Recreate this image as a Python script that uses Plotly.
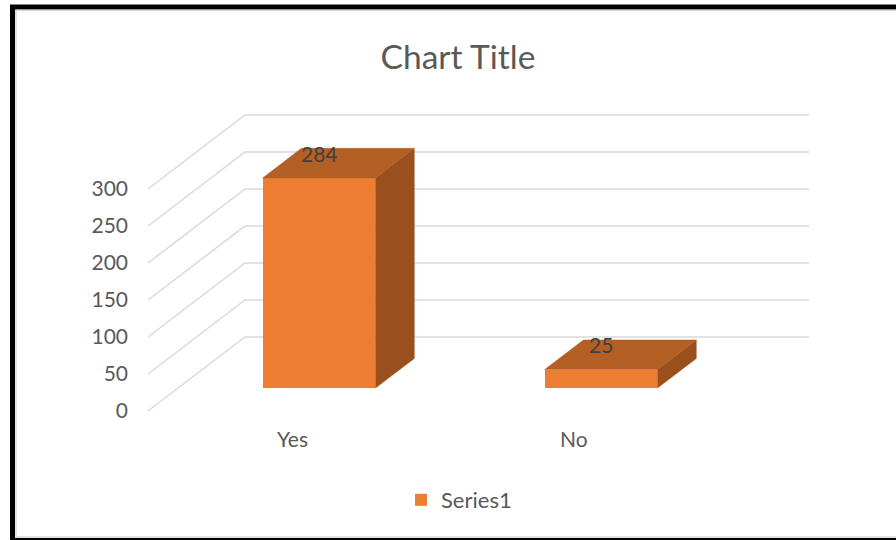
import plotly.graph_objects as go

# ---- data ----
categories = ["Yes", "No"]
values = [284, 25]
series_name = "Series1"
y_ticks = [0, 50, 100, 150, 200, 250, 300]
title_text = "Chart Title"

# ---- pseudo-3D geometry (in axis units) ----
W, H = 896, 540
DEPTH_X = 0.344      # full floor depth, category units
DEPTH_Y = 100.0      # full floor depth, value units
BAR_FRONT = 0.31     # bar front plane (fraction of depth)
BAR_BACK = 0.71
BAR_W = 0.40
FLOOR_L, FLOOR_R = -0.5, len(categories) - 0.5

FRONT = "#ED7D31"
TOP = "#B45F23"
SIDE = "#9A501C"
GRID = "#D9D9D9"
TXT = "#595959"
FONT = "Lato, 'Open Sans', sans-serif"

fig = go.Figure()
shapes = []

# gridlines: side diagonal + back wall (drawn below the bars)
for t in y_ticks:
    xs = [FLOOR_L, FLOOR_L + DEPTH_X, FLOOR_R + DEPTH_X]
    ys = [t, t + DEPTH_Y, t + DEPTH_Y]
    path = "M" + " L".join(f"{a},{b}" for a, b in zip(xs, ys))
    shapes.append(dict(type="path", xref="x", yref="y", path=path,
                       line=dict(color=GRID, width=1.5), layer="below"))

fdx = BAR_FRONT * DEPTH_X
fdy = BAR_FRONT * DEPTH_Y
ddx = (BAR_BACK - BAR_FRONT) * DEPTH_X
ddy = (BAR_BACK - BAR_FRONT) * DEPTH_Y

for i, (c, v) in enumerate(zip(categories, values)):
    xl = i + fdx - BAR_W / 2
    xr = i + fdx + BAR_W / 2
    base = fdy
    top = fdy + v
    # side face
    fig.add_trace(go.Scatter(
        x=[xr, xr, xr + ddx, xr + ddx, xr],
        y=[base, top, top + ddy, base + ddy, base],
        mode="lines", fill="toself", fillcolor=SIDE,
        line=dict(color=SIDE, width=0.5), hoverinfo="skip", showlegend=False))
    # top face
    fig.add_trace(go.Scatter(
        x=[xl, xr, xr + ddx, xl + ddx, xl],
        y=[top, top, top + ddy, top + ddy, top],
        mode="lines", fill="toself", fillcolor=TOP,
        line=dict(color=TOP, width=0.5), hoverinfo="skip", showlegend=False))

# front faces (the actual bars)
fig.add_trace(go.Bar(
    x=[i + fdx for i in range(len(categories))],
    y=values, base=[fdy] * len(values), width=BAR_W,
    marker=dict(color=FRONT, line=dict(width=0)),
    name=series_name, showlegend=True))

annotations = []
# data labels
for i, v in enumerate(values):
    annotations.append(dict(
        x=i + fdx, y=fdy + v + ddy, xref="x", yref="y",
        text=str(v), showarrow=False, yanchor="middle", yshift=-5,
        font=dict(family=FONT, size=21, color="#404040")))
# category labels
for i, c in enumerate(categories):
    annotations.append(dict(
        x=i, y=0, xref="x", yref="y", text=c, showarrow=False,
        yanchor="middle", yshift=-27, xshift=3,
        font=dict(family=FONT, size=21, color=TXT)))

shapes += [
    # outer black frame
    dict(type="rect", xref="paper", yref="paper",
         x0=12.5 / W, x1=1.05, y0=1 - 540.5 / H, y1=1 - 7 / H,
         line=dict(color="black", width=5), layer="above"),
    # inner grey frame
    dict(type="rect", xref="paper", yref="paper",
         x0=16 / W, x1=1.05, y0=1 - 537 / H, y1=1 - 10.5 / H,
         line=dict(color=GRID, width=1.5), layer="above"),
]

# axis ranges chosen so that value 0 / category 0 at depth 0 land at
# pixel (289, 411), 282 px per category and 0.74 px per unit
cx0, cy0, sx, sy = 289, 411, 282.0, 0.74
x0 = -cx0 / sx
x1 = (W - cx0) / sx
y0 = (cy0 - H) / sy
y1 = cy0 / sy

fig.update_layout(
    width=W, height=H,
    margin=dict(l=0, r=0, t=0, b=0),
    paper_bgcolor="white", plot_bgcolor="white",
    title=dict(text=title_text, x=458 / W, xanchor="center",
               y=1 - 57 / H, yanchor="middle",
               font=dict(family=FONT, size=33.5, color=TXT)),
    xaxis=dict(range=[x0, x1], visible=False, domain=[0, 1]),
    yaxis=dict(range=[y0, y1], domain=[0, 1], anchor="free",
               position=148 / W,
               tickvals=y_ticks, showgrid=False, zeroline=False, showline=False,
               ticks="", ticklabelstandoff=20,
               tickfont=dict(family=FONT, size=21, color=TXT)),
    showlegend=True,
    legend=dict(x=401 / W, xanchor="left", y=1 - 500 / H,
                yanchor="middle", orientation="h",
                font=dict(family=FONT, size=22, color=TXT),
                bgcolor="rgba(0,0,0,0)"),
    annotations=annotations, shapes=shapes,
    bargap=0,
)

fig.write_html(
    "out.html",
    config={"displayModeBar": False},
    post_script="document.body.style.margin='0';document.body.style.overflow='hidden';",
)
